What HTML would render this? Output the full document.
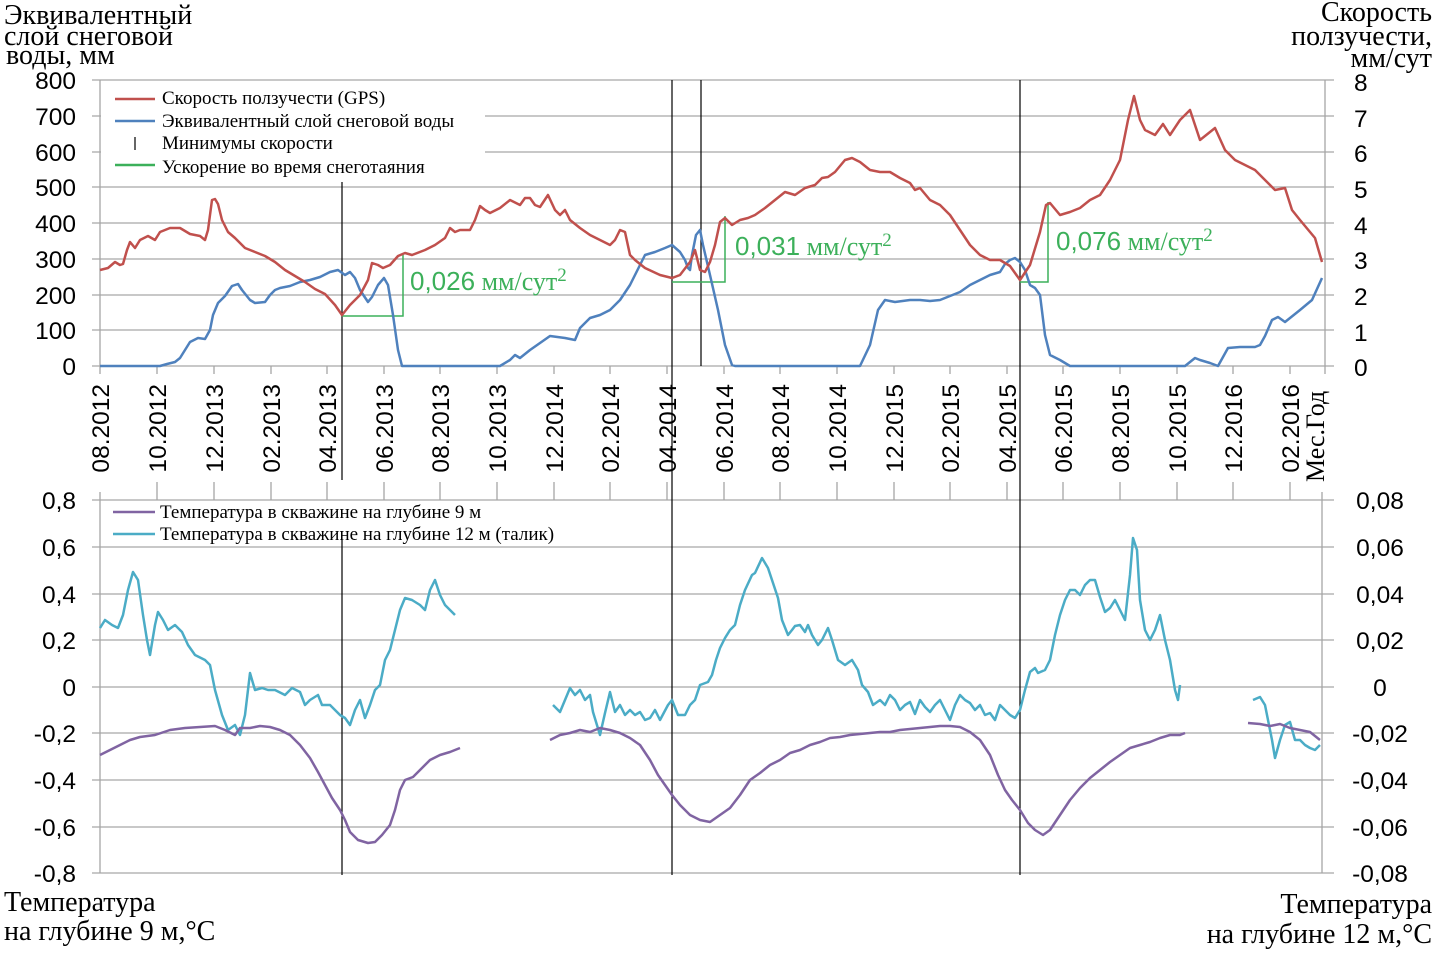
<!DOCTYPE html>
<html><head><meta charset="utf-8"><style>
body{margin:0;background:#fff}
svg{display:block}
.s{font-family:"Liberation Serif",serif}
.a{font-family:"Liberation Sans",sans-serif}
</style></head><body>
<svg width="1436" height="968" viewBox="0 0 1436 968" xmlns="http://www.w3.org/2000/svg">
<g stroke="#a6a6a6" stroke-width="1.3">
<line x1="92" y1="80" x2="1334" y2="80"/><line x1="92" y1="116" x2="1334" y2="116"/><line x1="92" y1="152" x2="1334" y2="152"/><line x1="92" y1="187" x2="1334" y2="187"/><line x1="92" y1="223" x2="1334" y2="223"/><line x1="92" y1="259" x2="1334" y2="259"/><line x1="92" y1="295" x2="1334" y2="295"/><line x1="92" y1="330" x2="1334" y2="330"/><line x1="92" y1="366" x2="1334" y2="366"/>
<line x1="100" y1="80" x2="100" y2="374"/><line x1="1325" y1="80" x2="1325" y2="374"/>
<line x1="92" y1="500" x2="1334" y2="500"/><line x1="92" y1="547" x2="1334" y2="547"/><line x1="92" y1="594" x2="1334" y2="594"/><line x1="92" y1="640" x2="1334" y2="640"/><line x1="92" y1="687" x2="1334" y2="687"/><line x1="92" y1="733" x2="1334" y2="733"/><line x1="92" y1="780" x2="1334" y2="780"/><line x1="92" y1="827" x2="1334" y2="827"/><line x1="92" y1="873" x2="1334" y2="873"/>
<line x1="100" y1="492" x2="100" y2="873"/><line x1="1322" y1="492" x2="1322" y2="873"/>
</g>
<g stroke="#a6a6a6" stroke-width="1.3">
<path d="M157 366v8M214 366v8M271 366v8M327 366v8M384 366v8M440 366v8M497 366v8M554 366v8M610 366v8M667 366v8M724 366v8M780 366v8M837 366v8M894 366v8M950 366v8M1007 366v8M1063 366v8M1120 366v8M1177 366v8M1233 366v8M1290 366v8"/>
<path d="M157 500v-18M214 500v-18M271 500v-18M327 500v-18M384 500v-18M440 500v-18M497 500v-18M554 500v-18M610 500v-18M667 500v-18M724 500v-18M780 500v-18M837 500v-18M894 500v-18M950 500v-18M1007 500v-18M1063 500v-18M1120 500v-18M1177 500v-18M1233 500v-18M1290 500v-18"/>
</g>
<rect x="101" y="84" width="384" height="96" fill="#fff"/>
<rect x="101" y="502" width="478" height="44" fill="#fff"/>
<g stroke="#000" stroke-width="1.2">
<line x1="342" y1="182" x2="342" y2="480"/><line x1="672" y1="80" x2="672" y2="480"/><line x1="701" y1="80" x2="701" y2="366"/><line x1="1020" y1="80" x2="1020" y2="480"/>
<line x1="342" y1="540" x2="342" y2="875"/><line x1="672" y1="480" x2="672" y2="875"/><line x1="1020" y1="480" x2="1020" y2="875"/>
</g>
<g fill="none" stroke="#3cb05a" stroke-width="1.5">
<path d="M342 316H403V255"/><path d="M672 282H725V216"/><path d="M1020 282H1048V202"/>
</g>
<g fill="none" stroke-width="2.5" stroke-linejoin="round">
<polyline stroke="#4f81bd" points="100,366 160,366 167,364 175,362 180,358 185,350 190,342 198,338 205,339 210,330 213,315 218,303 225,296 232,286 238,284 242,290 250,300 255,303 265,302 270,295 275,290 280,288 290,286 300,282 310,280 320,277 330,272 338,270 345,275 350,272 355,278 360,290 368,302 372,297 378,285 384,278 388,285 393,315 398,350 402,366 500,366 510,360 515,355 520,358 530,350 540,343 550,336 565,338 575,340 580,328 590,318 600,315 610,310 620,300 630,285 640,265 645,255 655,252 665,248 672,245 680,252 685,260 688,268 690,270 692,255 696,235 700,230 703,245 710,275 718,310 725,345 732,365 735,366 860,366 870,345 878,310 885,300 895,302 910,300 920,300 930,301 940,300 950,296 960,292 970,285 980,280 990,275 1000,272 1005,264 1010,260 1015,258 1020,262 1025,270 1030,285 1035,288 1040,295 1045,335 1050,355 1060,360 1070,366 1185,366 1190,362 1195,358 1200,360 1210,363 1218,366 1228,348 1240,347 1255,347 1260,345 1265,336 1272,320 1278,317 1285,322 1300,310 1312,300 1322,278"/>
<polyline stroke="#c0504d" points="100,270 108,268 115,262 120,265 123,264 127,250 130,242 135,248 140,240 148,236 155,240 160,232 170,228 180,228 190,234 200,236 205,240 208,230 212,200 215,199 218,204 222,220 228,232 235,238 245,248 255,252 265,256 275,262 285,270 295,276 305,282 315,289 325,294 335,305 342,315 350,305 360,295 368,280 372,263 378,265 383,268 390,265 398,256 405,253 412,255 425,250 435,245 445,238 450,228 455,232 460,230 470,230 475,220 480,206 485,210 490,213 500,208 510,200 520,205 525,198 530,198 535,205 540,207 548,195 555,210 560,215 565,210 570,220 580,228 590,235 600,240 610,245 615,240 620,230 625,232 630,255 635,260 645,268 660,275 672,278 680,275 690,262 695,250 700,270 705,272 710,262 715,245 720,222 725,218 732,225 740,220 748,218 755,215 765,208 775,200 785,192 795,195 805,188 815,185 822,178 828,177 835,172 845,160 852,158 860,162 870,170 880,172 890,172 900,178 910,183 915,190 920,188 930,200 940,205 950,215 960,230 970,245 980,255 990,260 1000,260 1010,266 1020,280 1030,265 1040,232 1046,205 1050,203 1060,215 1070,212 1080,208 1090,200 1100,195 1110,180 1120,160 1128,120 1134,96 1140,120 1145,130 1155,135 1163,124 1170,135 1180,120 1190,110 1200,140 1210,132 1215,128 1225,150 1235,160 1245,165 1255,170 1265,180 1275,190 1285,188 1292,210 1300,220 1315,238 1322,262"/>
<polyline stroke="#4bacc6" points="100,628 105,620 112,625 118,628 123,615 128,590 133,572 138,580 143,615 147,640 150,655 155,625 158,612 163,620 168,630 175,625 182,632 188,645 195,655 205,660 210,665 215,690 222,715 228,730 235,725 240,735 245,715 250,673 255,690 262,688 268,690 275,690 285,695 292,688 300,692 305,705 310,700 318,695 322,705 330,705 335,710 340,715 345,718 350,725 355,710 360,700 365,718 370,705 375,690 380,685 385,660 390,650 395,630 400,610 405,598 412,600 420,605 425,610 430,590 435,580 440,595 445,605 450,610 455,615"/>
<polyline stroke="#4bacc6" points="553,705 560,712 565,700 570,688 575,695 580,690 585,700 590,695 593,712 600,735 605,713 610,692 615,712 620,705 625,715 630,710 635,715 640,712 645,720 650,718 655,710 660,720 668,705 672,700 678,715 685,715 690,705 695,700 700,685 708,682 712,675 716,660 720,648 725,638 730,630 735,625 740,605 745,590 752,575 755,573 762,558 768,568 772,580 778,598 782,620 788,635 792,630 795,626 800,625 805,632 808,625 812,635 818,645 822,640 828,628 832,640 838,660 845,665 852,660 858,670 862,685 868,692 873,705 880,700 885,705 890,695 895,700 900,710 905,705 910,702 915,714 920,700 925,707 930,712 935,705 940,700 945,710 950,720 955,705 960,695 965,700 970,703 975,710 980,705 985,715 990,713 995,720 1000,705 1005,710 1010,715 1015,718 1020,710 1025,690 1030,672 1035,668 1038,673 1045,670 1050,660 1055,635 1060,615 1065,600 1070,590 1075,590 1080,595 1085,585 1090,580 1095,580 1100,597 1105,612 1110,608 1115,600 1120,610 1125,620 1130,575 1133,538 1137,550 1140,600 1145,630 1150,640 1155,630 1160,615 1165,640 1170,660 1175,690 1178,700 1180,685"/>
<polyline stroke="#4bacc6" points="1253,700 1260,697 1265,705 1272,740 1275,758 1280,740 1285,725 1290,722 1295,740 1300,740 1305,745 1310,748 1315,750 1320,745"/>
<polyline stroke="#8064a2" points="100,755 110,750 120,745 130,740 140,737 155,735 170,730 185,728 200,727 215,726 225,730 235,735 240,728 250,728 260,726 270,727 280,730 290,735 300,745 310,758 318,772 325,785 332,798 340,810 345,820 350,832 358,840 368,843 375,842 382,835 390,825 395,810 400,790 405,780 413,777 420,770 430,760 440,755 450,752 460,748"/>
<polyline stroke="#8064a2" points="550,740 560,735 570,733 580,730 590,732 600,728 610,730 620,733 630,738 640,745 650,760 658,775 665,785 672,795 680,805 690,815 700,820 710,822 720,815 730,808 740,795 750,780 760,773 770,765 780,760 790,753 800,750 810,745 820,742 830,738 840,737 850,735 860,734 870,733 880,732 890,732 900,730 910,729 920,728 930,727 940,726 950,726 960,727 970,732 980,740 990,755 998,775 1005,790 1012,800 1020,810 1028,823 1035,830 1043,835 1050,830 1060,815 1070,800 1080,788 1090,778 1100,770 1110,762 1120,755 1130,748 1140,745 1150,742 1160,738 1170,735 1180,735 1185,733"/>
<polyline stroke="#8064a2" points="1248,723 1260,724 1270,726 1280,724 1290,728 1300,730 1310,732 1320,740"/>
</g>
<g stroke-width="2.5">
<line x1="115" y1="99" x2="155" y2="99" stroke="#c0504d"/>
<line x1="115" y1="121" x2="155" y2="121" stroke="#4f81bd"/>
<line x1="135" y1="137" x2="135" y2="150" stroke="#000" stroke-width="1.2"/>
<line x1="115" y1="165" x2="155" y2="165" stroke="#3cb05a"/>
<line x1="113" y1="512" x2="155" y2="512" stroke="#8064a2"/>
<line x1="113" y1="534" x2="155" y2="534" stroke="#4bacc6"/>
</g>
<g class="s" font-size="19" fill="#000">
<text x="162" y="104">Скорость ползучести (GPS)</text>
<text x="162" y="127">Эквивалентный слой снеговой воды</text>
<text x="162" y="149">Минимумы скорости</text>
<text x="162" y="173">Ускорение во время снеготаяния</text>
<text x="160" y="518">Температура в скважине на глубине 9 м</text>
<text x="160" y="540">Температура в скважине на глубине 12 м (талик)</text>
</g>
<g fill="#3cb05a" font-size="26">
<text x="410" y="290"><tspan class="a">0,026</tspan><tspan class="s"> мм/сут</tspan><tspan class="s" font-size="19" dy="-9">2</tspan></text>
<text x="735" y="255"><tspan class="a">0,031</tspan><tspan class="s"> мм/сут</tspan><tspan class="s" font-size="19" dy="-9">2</tspan></text>
<text x="1056" y="250"><tspan class="a">0,076</tspan><tspan class="s"> мм/сут</tspan><tspan class="s" font-size="19" dy="-9">2</tspan></text>
</g>
<g class="a" font-size="24.5" fill="#000" text-anchor="end">
<text x="76" y="89">800</text><text x="76" y="125">700</text><text x="76" y="161">600</text><text x="76" y="196">500</text><text x="76" y="232">400</text><text x="76" y="268">300</text><text x="76" y="304">200</text><text x="76" y="339">100</text><text x="76" y="375">0</text>
<text x="76" y="509">0,8</text><text x="76" y="556">0,6</text><text x="76" y="603">0,4</text><text x="76" y="649">0,2</text><text x="76" y="696">0</text><text x="76" y="742">-0,2</text><text x="76" y="789">-0,4</text><text x="76" y="836">-0,6</text><text x="76" y="882">-0,8</text>
</g>
<g class="a" font-size="24.5" fill="#000">
<text x="1354" y="91">8</text><text x="1354" y="127">7</text><text x="1354" y="162">6</text><text x="1354" y="198">5</text><text x="1354" y="234">4</text><text x="1354" y="269">3</text><text x="1354" y="305">2</text><text x="1354" y="341">1</text><text x="1354" y="376">0</text>
</g>
<g class="a" font-size="24.5" fill="#000" text-anchor="middle">
<text x="1380" y="509">0,08</text><text x="1380" y="556">0,06</text><text x="1380" y="603">0,04</text><text x="1380" y="649">0,02</text><text x="1380" y="696">0</text><text x="1380" y="742">-0,02</text><text x="1380" y="789">-0,04</text><text x="1380" y="836">-0,06</text><text x="1380" y="882">-0,08</text>
</g>
<g class="a" font-size="24.5" fill="#000" text-anchor="end">
<text transform="translate(109,384) rotate(-90)">08.2012</text>
<text transform="translate(166,384) rotate(-90)">10.2012</text>
<text transform="translate(223,384) rotate(-90)">12.2013</text>
<text transform="translate(280,384) rotate(-90)">02.2013</text>
<text transform="translate(336,384) rotate(-90)">04.2013</text>
<text transform="translate(393,384) rotate(-90)">06.2013</text>
<text transform="translate(449,384) rotate(-90)">08.2013</text>
<text transform="translate(506,384) rotate(-90)">10.2013</text>
<text transform="translate(563,384) rotate(-90)">12.2014</text>
<text transform="translate(619,384) rotate(-90)">02.2014</text>
<text transform="translate(676,384) rotate(-90)">04.2014</text>
<text transform="translate(733,384) rotate(-90)">06.2014</text>
<text transform="translate(789,384) rotate(-90)">08.2014</text>
<text transform="translate(846,384) rotate(-90)">10.2014</text>
<text transform="translate(903,384) rotate(-90)">12.2015</text>
<text transform="translate(959,384) rotate(-90)">02.2015</text>
<text transform="translate(1016,384) rotate(-90)">04.2015</text>
<text transform="translate(1072,384) rotate(-90)">06.2015</text>
<text transform="translate(1129,384) rotate(-90)">08.2015</text>
<text transform="translate(1186,384) rotate(-90)">10.2015</text>
<text transform="translate(1242,384) rotate(-90)">12.2016</text>
<text transform="translate(1299,384) rotate(-90)">02.2016</text>
</g>
<text class="s" font-size="26" transform="translate(1324,482) rotate(-90)">Мес.Год</text>
<g class="s" font-size="28" fill="#000">
<text x="4" y="24">Эквивалентный</text>
<text x="4" y="45">слой  снеговой</text>
<text x="6" y="64">воды, мм</text>
<text x="4" y="911">Температура</text>
<text x="4" y="940">на глубине 9 м,°C</text>
</g>
<g class="s" font-size="28" fill="#000" text-anchor="end">
<text x="1432" y="21">Скорость</text>
<text x="1432" y="45">ползучести,</text>
<text x="1432" y="67">мм/сут</text>
<text x="1432" y="913">Температура</text>
<text x="1432" y="943">на глубине 12 м,°C</text>
</g>
</svg>
</body></html>
